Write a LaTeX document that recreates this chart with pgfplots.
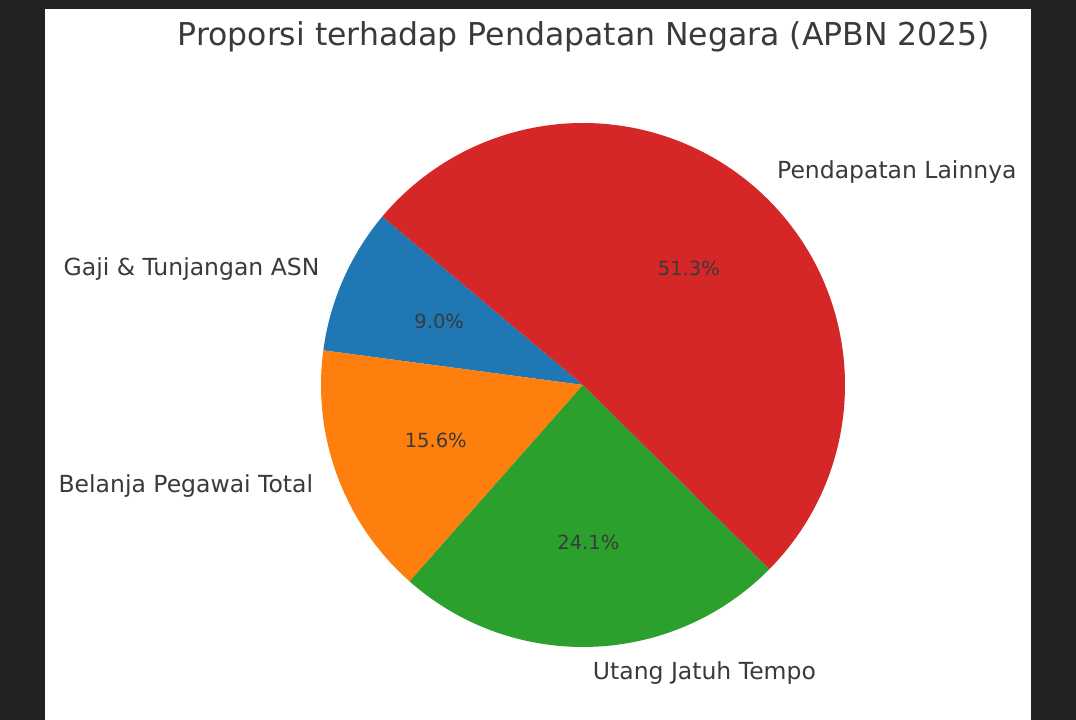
\documentclass[border=0pt]{standalone}
\usepackage{fontspec}
\setmainfont{DejaVu Sans}
\usepackage{pgfplots}
\usepackage{pgfplotstable}
\pgfplotsset{compat=1.18}
\definecolor{tabblue}{HTML}{1F77B4}
\definecolor{taborange}{HTML}{FF7F0E}
\definecolor{tabgreen}{HTML}{2CA02C}
\definecolor{tabred}{HTML}{D62728}
\definecolor{txt}{HTML}{3A3A3A}
\definecolor{framecol}{HTML}{222222}

\pgfplotstableread[col sep=comma]{
label,value
Gaji \& Tunjangan ASN,9.0
Belanja Pegawai Total,15.6
Utang Jatuh Tempo,24.1
Pendapatan Lainnya,51.3
}\piedata

\newcommand\slice[3]{\fill[#3] (axis cs:583,335) -- ++(#1:262bp) arc[start angle=#1,end angle=#2,radius=262bp] -- cycle;}
\newcommand\pielabel[3]{\path (axis cs:583,335) ++(#1:288bp) node[anchor=#2,inner sep=0pt,text=txt,font=\fontsize{23.5bp}{28bp}\selectfont] {#3};}
\newcommand\pctlabel[2]{\path (axis cs:583,335) ++(#1:157.2bp) node[anchor=center,inner sep=0pt,text=txt,font=\fontsize{19.5bp}{23bp}\selectfont] {\pgfmathprintnumber[fixed,fixed zerofill,precision=1,assume math mode=true]{#2}\%};}

\begin{document}
\begin{tikzpicture}
\pgfplotstablegetelem{0}{value}\of\piedata\edef\vA{\pgfplotsretval}
\pgfplotstablegetelem{1}{value}\of\piedata\edef\vB{\pgfplotsretval}
\pgfplotstablegetelem{2}{value}\of\piedata\edef\vC{\pgfplotsretval}
\pgfplotstablegetelem{3}{value}\of\piedata\edef\vD{\pgfplotsretval}
\pgfplotstablegetelem{0}{label}\of\piedata\let\lA\pgfplotsretval
\pgfplotstablegetelem{1}{label}\of\piedata\let\lB\pgfplotsretval
\pgfplotstablegetelem{2}{label}\of\piedata\let\lC\pgfplotsretval
\pgfplotstablegetelem{3}{label}\of\piedata\let\lD\pgfplotsretval
\pgfmathsetmacro\aA{140}
\pgfmathsetmacro\aB{\aA+3.6*\vA}
\pgfmathsetmacro\aC{\aB+3.6*\vB}
\pgfmathsetmacro\aD{\aC+3.6*\vC}
\pgfmathsetmacro\aE{\aD+3.6*\vD}
\pgfmathsetmacro\mA{(\aA+\aB)/2}
\pgfmathsetmacro\mB{(\aB+\aC)/2}
\pgfmathsetmacro\mC{(\aC+\aD)/2}
\pgfmathsetmacro\mD{(\aD+\aE)/2}
\begin{axis}[hide axis, scale only axis, width=1076bp, height=720bp,
  xmin=0, xmax=1076, ymin=0, ymax=720, clip=false]
\fill[framecol] (axis cs:0,0) rectangle (axis cs:1076,720);
\fill[white] (axis cs:45,0) rectangle (axis cs:1031,711);
\slice{\aA}{\aB}{tabblue}
\slice{\aB}{\aC}{taborange}
\slice{\aC}{\aD}{tabgreen}
\slice{\aD}{\aE}{tabred}
\pielabel{\mA}{east}{\lA}
\pielabel{\mB}{east}{\lB}
\pielabel{\mC}{west}{\lC}
\pielabel{\mD}{west}{\lD}
\pctlabel{\mA}{\vA}
\pctlabel{\mB}{\vB}
\pctlabel{\mC}{\vC}
\pctlabel{\mD}{\vD}
\node[anchor=base, text=txt, inner sep=0pt, font=\fontsize{31.5bp}{36bp}\selectfont] at (axis cs:584,674) {Proporsi terhadap Pendapatan Negara (APBN 2025)};
\end{axis}
\end{tikzpicture}
\end{document}
